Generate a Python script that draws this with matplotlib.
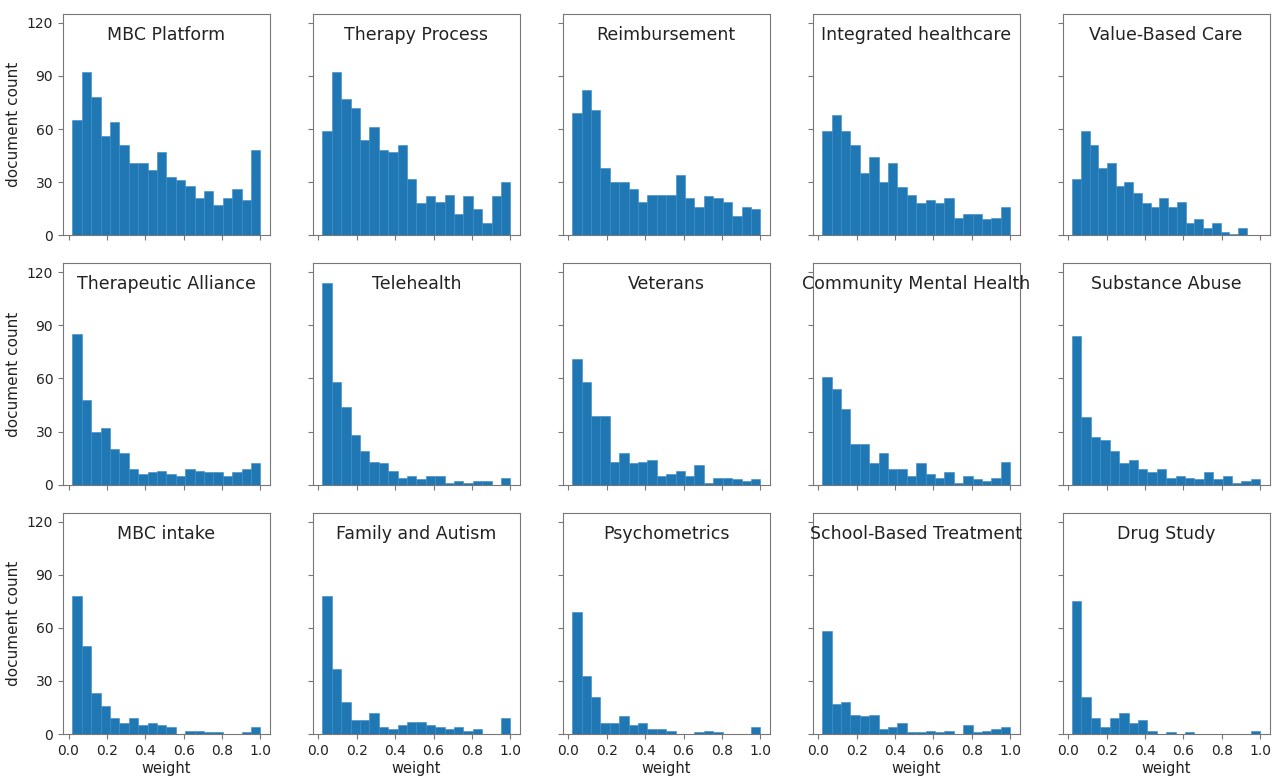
import numpy as np
import matplotlib
matplotlib.use("Agg")
import matplotlib.pyplot as plt

# topic names, one histogram each (3 rows x 5 columns)
topics = [
    "MBC Platform", "Therapy Process", "Reimbursement", "Integrated healthcare", "Value-Based Care",
    "Therapeutic Alliance", "Telehealth", "Veterans", "Community Mental Health", "Substance Abuse",
    "MBC intake", "Family and Autism", "Psychometrics", "School-Based Treatment", "Drug Study",
]

# document counts per weight bin (20 bins per topic)
mbc_platform = [65, 92, 78, 56, 64, 51, 41, 41, 37, 47, 33, 31, 28, 21, 25, 17, 21, 26, 20, 48]
therapy_process = [59, 92, 77, 72, 54, 61, 48, 47, 51, 32, 18, 22, 19, 23, 12, 22, 15, 7, 22, 30]
reimbursement = [69, 82, 71, 38, 30, 30, 26, 19, 23, 23, 23, 34, 21, 16, 22, 21, 19, 11, 16, 15]
integrated = [59, 68, 59, 51, 35, 44, 30, 41, 27, 23, 18, 20, 18, 21, 10, 12, 12, 9, 10, 16]
value_based = [32, 59, 51, 38, 41, 28, 30, 24, 18, 16, 21, 16, 19, 7, 9, 4, 7, 2, 1, 4]
alliance = [85, 48, 30, 32, 20, 18, 9, 6, 7, 8, 6, 5, 9, 8, 7, 7, 5, 7, 9, 12]
telehealth = [114, 58, 44, 28, 19, 13, 12, 8, 4, 5, 3, 5, 5, 1, 2, 1, 2, 2, 0, 4]
veterans = [71, 58, 39, 39, 13, 18, 12, 13, 14, 5, 6, 8, 5, 11, 1, 4, 4, 3, 2, 3]
community = [61, 54, 43, 23, 23, 12, 18, 9, 9, 5, 12, 6, 4, 7, 1, 5, 3, 2, 4, 13]
substance = [84, 38, 27, 25, 19, 12, 14, 9, 7, 9, 4, 5, 4, 3, 7, 3, 5, 1, 2, 3]
mbc_intake = [78, 50, 23, 16, 9, 6, 9, 5, 6, 5, 4, 0, 2, 2, 1, 1, 0, 0, 1, 4]
family_autism = [78, 37, 18, 8, 8, 12, 4, 3, 5, 7, 7, 5, 4, 3, 4, 2, 3, 0, 0, 9]
psychometrics = [69, 33, 21, 6, 6, 10, 5, 6, 3, 3, 2, 0, 0, 1, 2, 1, 0, 0, 0, 4]
school_based = [58, 17, 18, 11, 10, 11, 3, 4, 6, 1, 1, 2, 1, 2, 0, 5, 1, 2, 3, 4]
drug_study = [75, 21, 9, 4, 9, 12, 6, 8, 2, 0, 1, 0, 1, 0, 0, 0, 0, 0, 0, 2]

counts = [
    mbc_platform, therapy_process, reimbursement, integrated, value_based,
    alliance, telehealth, veterans, community, substance,
    mbc_intake, family_autism, psychometrics, school_based, drug_study,
]

# weight range covered by each topic's bins
w_min = [0.02] * 15
w_max = [1.0] * 15
w_max[4] = 0.93

fig, axes = plt.subplots(3, 5, figsize=(12.85, 7.76), dpi=100, sharex=True, sharey=True)
fig.subplots_adjust(left=0.049, right=0.988, top=0.982, bottom=0.054, wspace=0.208, hspace=0.127)

for k, ax in enumerate(axes.flat):
    edges = np.linspace(w_min[k], w_max[k], len(counts[k]) + 1)
    ax.bar(edges[:-1], counts[k], width=np.diff(edges), align="edge",
           color="#1f77b4", edgecolor="#3d8ac4", linewidth=0.4)
    ax.text(0.5, 0.905, topics[k], transform=ax.transAxes,
            ha="center", va="center", fontsize=12.5, color="#222222")
    for s in ax.spines.values():
        s.set_color("#777777")
    ax.tick_params(colors="#777777", labelcolor="#222222", labelsize=10)

axes[0, 0].set_yticks([0, 30, 60, 90, 120])
axes[0, 0].set_ylim(0, 125)
axes[0, 0].set_xticks([0.0, 0.2, 0.4, 0.6, 0.8, 1.0])

for ax in axes[:, 0]:
    ax.set_ylabel("document count", fontsize=11, color="#222222")
for ax in axes[-1, :]:
    ax.set_xlabel("weight", fontsize=10.5, color="#222222", labelpad=2)

fig.savefig("out.png", dpi=100)
